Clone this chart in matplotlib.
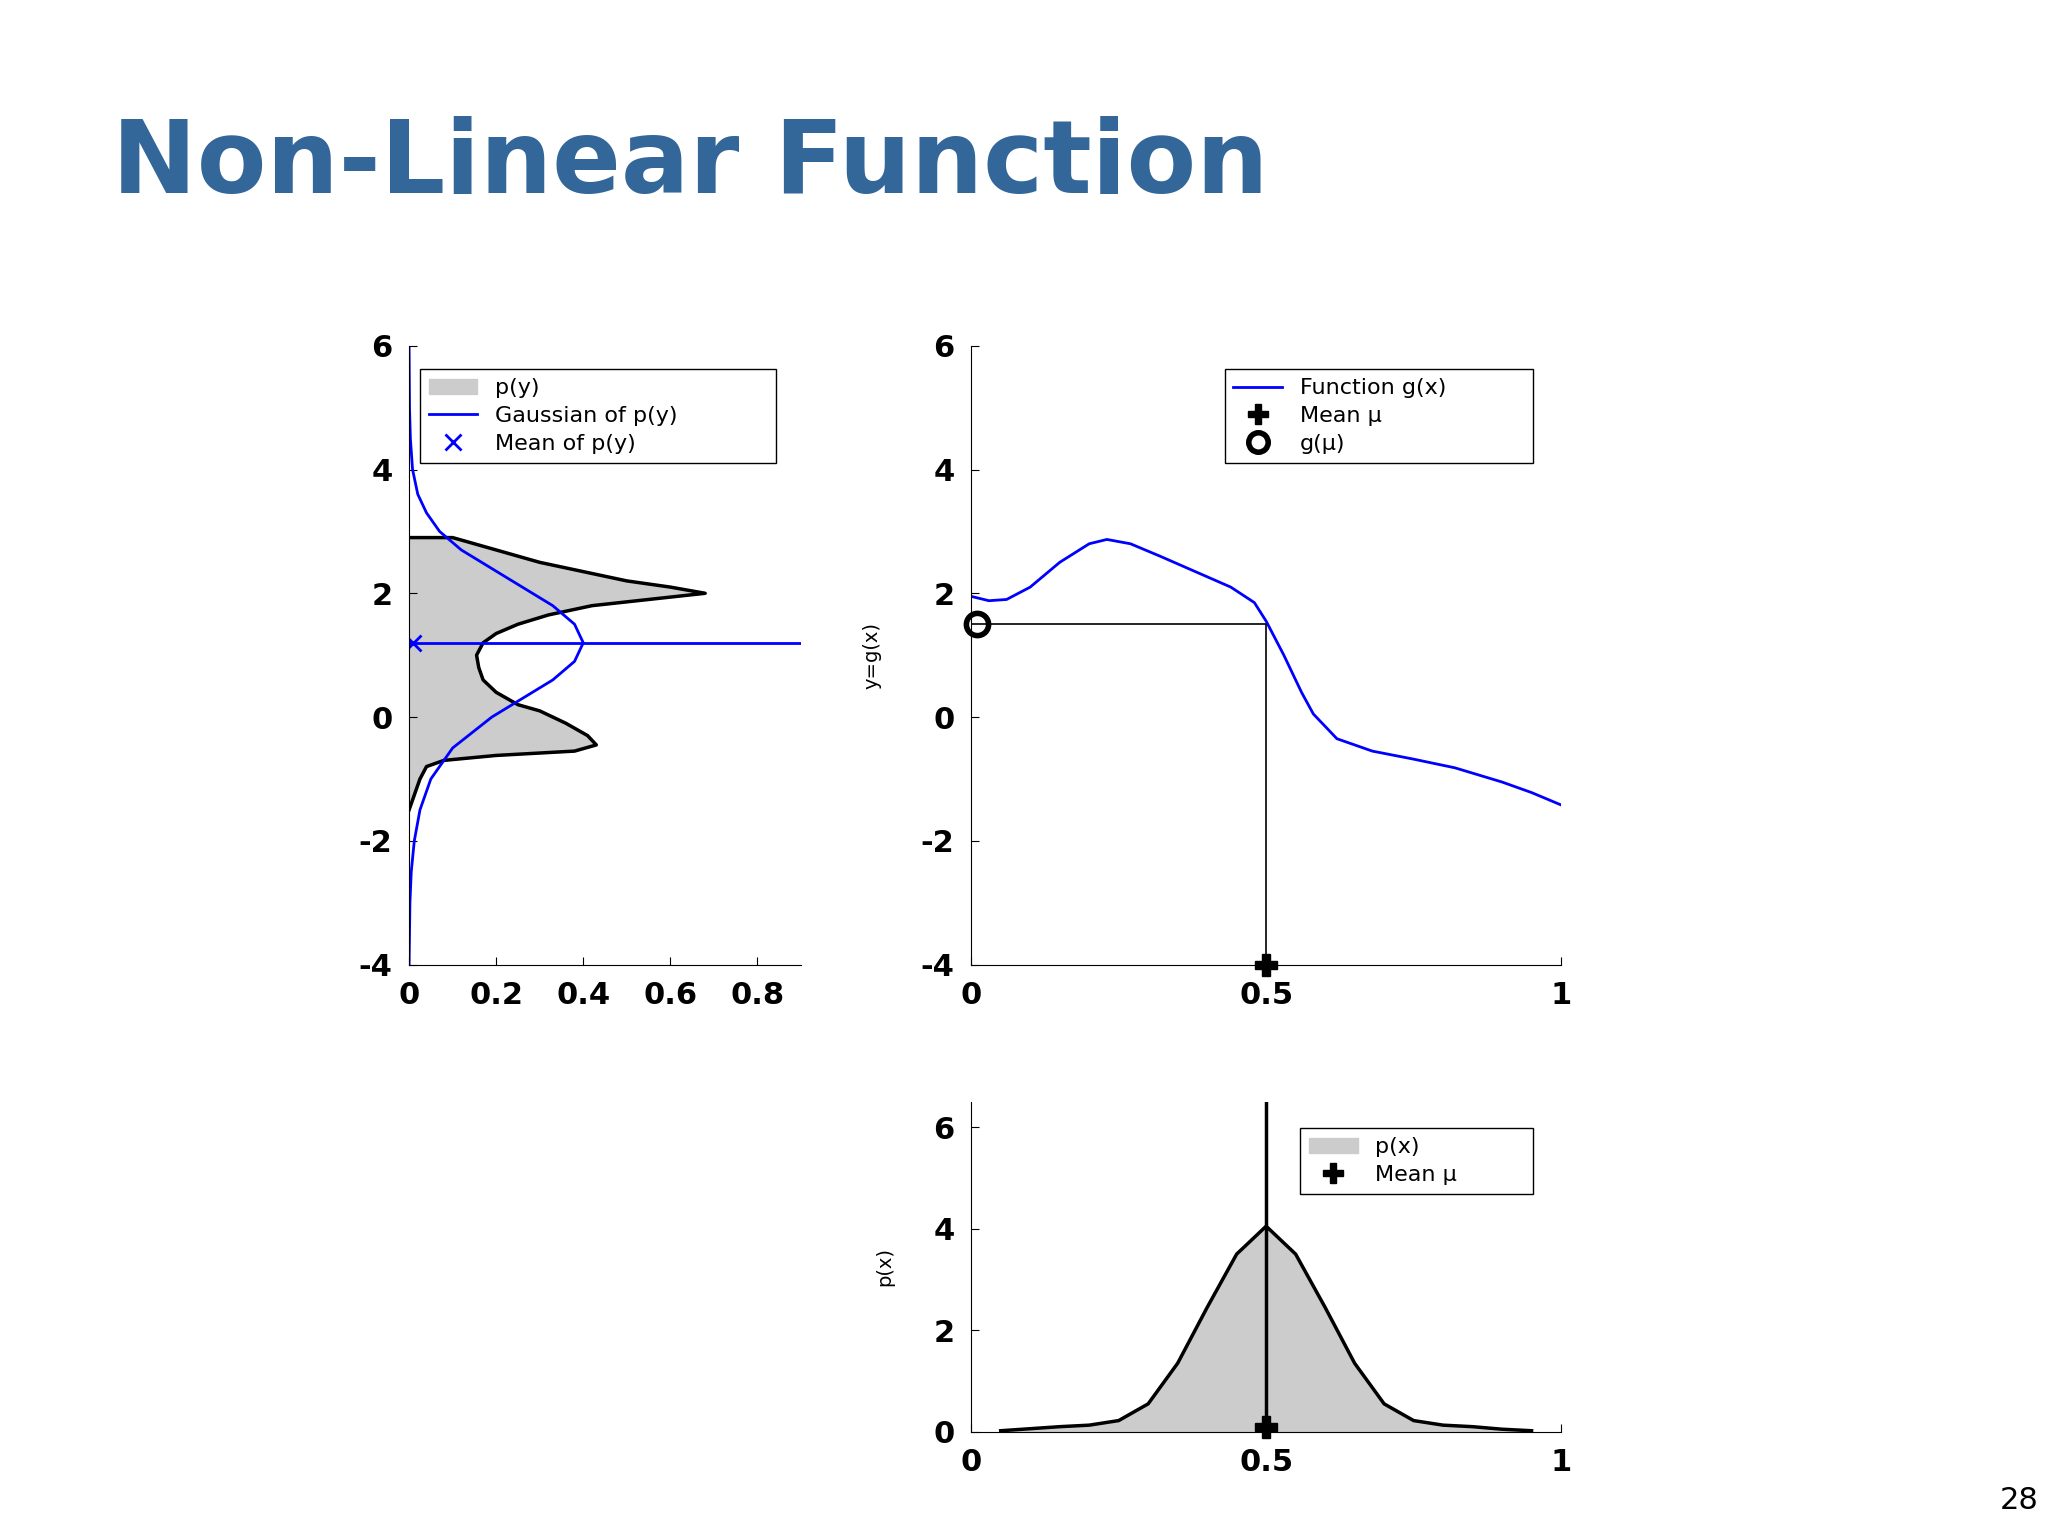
import matplotlib
matplotlib.use("Agg")
import matplotlib.pyplot as plt
from matplotlib.patches import Patch, Rectangle
from matplotlib.lines import Line2D

plt.rcParams['axes.unicode_minus'] = False

# p(y): density (x) vs y
py_y = [2.9, 2.9, 2.7, 2.5, 2.35, 2.2, 2.1, 2.0, 1.9, 1.8, 1.65, 1.5, 1.35, 1.2, 1.0, 0.8, 0.6, 0.4, 0.2, 0.1, -0.1, -0.3, -0.45, -0.55, -0.62, -0.7, -0.8, -1.0, -1.2, -1.5]
py_d = [0.0, 0.1, 0.2, 0.3, 0.4, 0.5, 0.6, 0.68, 0.55, 0.42, 0.32, 0.25, 0.2, 0.17, 0.155, 0.16, 0.17, 0.2, 0.25, 0.3, 0.36, 0.41, 0.43, 0.38, 0.2, 0.08, 0.04, 0.025, 0.015, 0.0]
gy_y = [-4, -3, -2.5, -2, -1.5, -1, -0.5, 0, 0.3, 0.6, 0.9, 1.2, 1.5, 1.8, 2.1, 2.4, 2.7, 3.0, 3.3, 3.6, 4.0, 4.5, 5, 6]
gy_d = [0.0, 0.002, 0.005, 0.012, 0.025, 0.05, 0.1, 0.19, 0.26, 0.33, 0.38, 0.4, 0.38, 0.33, 0.26, 0.19, 0.12, 0.07, 0.04, 0.02, 0.008, 0.003, 0.001, 0.0]
mean_y = 1.2

gx_x = [0, 0.03, 0.06, 0.1, 0.15, 0.2, 0.23, 0.27, 0.32, 0.38, 0.44, 0.48, 0.5, 0.53, 0.56, 0.58, 0.62, 0.68, 0.75, 0.82, 0.9, 0.95, 1.0]
gx_y = [1.95, 1.88, 1.9, 2.1, 2.5, 2.8, 2.87, 2.8, 2.6, 2.35, 2.1, 1.85, 1.55, 1.0, 0.4, 0.05, -0.35, -0.55, -0.68, -0.82, -1.05, -1.22, -1.42]
mu = 0.5
g_mu = 1.5

px_x = [0.05, 0.1, 0.15, 0.2, 0.25, 0.3, 0.35, 0.4, 0.45, 0.5, 0.55, 0.6, 0.65, 0.7, 0.75, 0.8, 0.85, 0.9, 0.95]
px_y = [0.02, 0.06, 0.1, 0.13, 0.22, 0.55, 1.35, 2.45, 3.5, 4.05, 3.5, 2.45, 1.35, 0.55, 0.22, 0.13, 0.1, 0.05, 0.02]

W, H = 1552, 1164
def rect(x0, y0, x1, y1):
    return [x0 / W, 1 - y1 / H, (x1 - x0) / W, (y1 - y0) / H]

fig = plt.figure(figsize=(20.48, 15.36), dpi=100)
fig.text(85 / W, 1 - 125 / H, "Non-Linear Function", fontsize=73, fontweight="bold",
         color="#336699", va="center", ha="left")
fig.text(1545 / W, 1 - 1137 / H, "28", fontsize=22, ha="right", va="center")

def style(ax):
    for s in ["top", "right"]:
        ax.spines[s].set_visible(False)
    ax.tick_params(direction="in", length=6, labelsize=22, pad=12)
    for l in ax.get_xticklabels() + ax.get_yticklabels():
        l.set_fontweight("bold")

leg_kw = dict(fontsize=16, fancybox=False, edgecolor="black", framealpha=1,
              borderpad=0.4, labelspacing=0.35, handlelength=2.2)

def anchor(x0, y0, x1, y1):
    return dict(loc="upper left", bbox_to_anchor=(x0 / W, 1 - y1 / H, (x1 - x0) / W, (y1 - y0) / H),
                bbox_transform=fig.transFigure, mode="expand", borderaxespad=0)

# left
ax1 = fig.add_axes(rect(310, 262, 607, 731))
ax1.fill_betweenx(py_y, 0, py_d, color="#cccccc")
ax1.plot(py_d, py_y, color="black", lw=2.5)
ax1.plot(gy_d, gy_y, color="blue", lw=2)
ax1.plot([0, 0.9], [mean_y, mean_y], color="blue", lw=2)
ax1.plot([0.01], [mean_y], "x", color="blue", ms=12, mew=2)
ax1.set_xlim(0, 0.9); ax1.set_ylim(-4, 6)
ax1.set_xticks([0, 0.2, 0.4, 0.6, 0.8]); ax1.set_xticklabels(["0", "0.2", "0.4", "0.6", "0.8"])
ax1.set_yticks([-4, -2, 0, 2, 4, 6])
style(ax1)
ax1.legend(handles=[Patch(color="#cccccc", label="p(y)"),
                    Line2D([], [], color="blue", lw=2, label="Gaussian of p(y)"),
                    Line2D([], [], color="blue", marker="x", ls="", ms=12, mew=2, label="Mean of p(y)")],
           **anchor(318, 280, 588, 374), **leg_kw)

# top right
ax2 = fig.add_axes(rect(736, 262, 1183, 731))
ax2.plot(gx_x, gx_y, color="blue", lw=2)
ax2.plot([0, mu, mu], [g_mu, g_mu, -4], color="black", lw=1.2)
ax2.plot([mu], [-4], "P", color="black", ms=16, clip_on=False)
ax2.plot([0.01], [g_mu], "o", mfc="none", mec="black", ms=16, mew=4, clip_on=False)
ax2.set_xlim(0, 1); ax2.set_ylim(-4, 6)
ax2.set_xticks([0, 0.5, 1]); ax2.set_xticklabels(["0", "0.5", "1"])
ax2.set_yticks([-4, -2, 0, 2, 4, 6])
ax2.set_ylabel("y=g(x)", fontsize=14, labelpad=28)
style(ax2)
ax2.legend(handles=[Line2D([], [], color="blue", lw=2, label="Function g(x)"),
                    Line2D([], [], color="black", marker="P", ls="", ms=14, label="Mean μ"),
                    Line2D([], [], color="black", marker="o", mfc="none", ls="", ms=14, mew=4, label="g(μ)")],
           **anchor(928, 280, 1162, 374), **leg_kw)

# bottom
ax3 = fig.add_axes(rect(736, 835, 1183, 1085))
ax3.fill_between(px_x, 0, px_y, color="#cccccc")
ax3.plot(px_x, px_y, color="black", lw=2.5)
ax3.axvline(mu, color="black", lw=2.5)
ax3.plot([mu], [0.1], "P", color="black", ms=16, clip_on=False)
ax3.set_xlim(0, 1); ax3.set_ylim(0, 6.5)
ax3.set_xticks([0, 0.5, 1]); ax3.set_xticklabels(["0", "0.5", "1"])
ax3.set_yticks([0, 2, 4, 6])
ax3.set_ylabel("p(x)", fontsize=14, labelpad=28)
style(ax3)
ax3.legend(handles=[Patch(color="#cccccc", label="p(x)"),
                    Line2D([], [], color="black", marker="P", ls="", ms=14, label="Mean μ")],
           **anchor(985, 855, 1162, 921), **leg_kw)

# crop strip below as in the reference
fig.add_artist(Rectangle((0.3, 0), 0.6, 1 - 1116 / H, transform=fig.transFigure,
                         facecolor="white", edgecolor="none", zorder=10))
fig.savefig("out.png", dpi=100)
